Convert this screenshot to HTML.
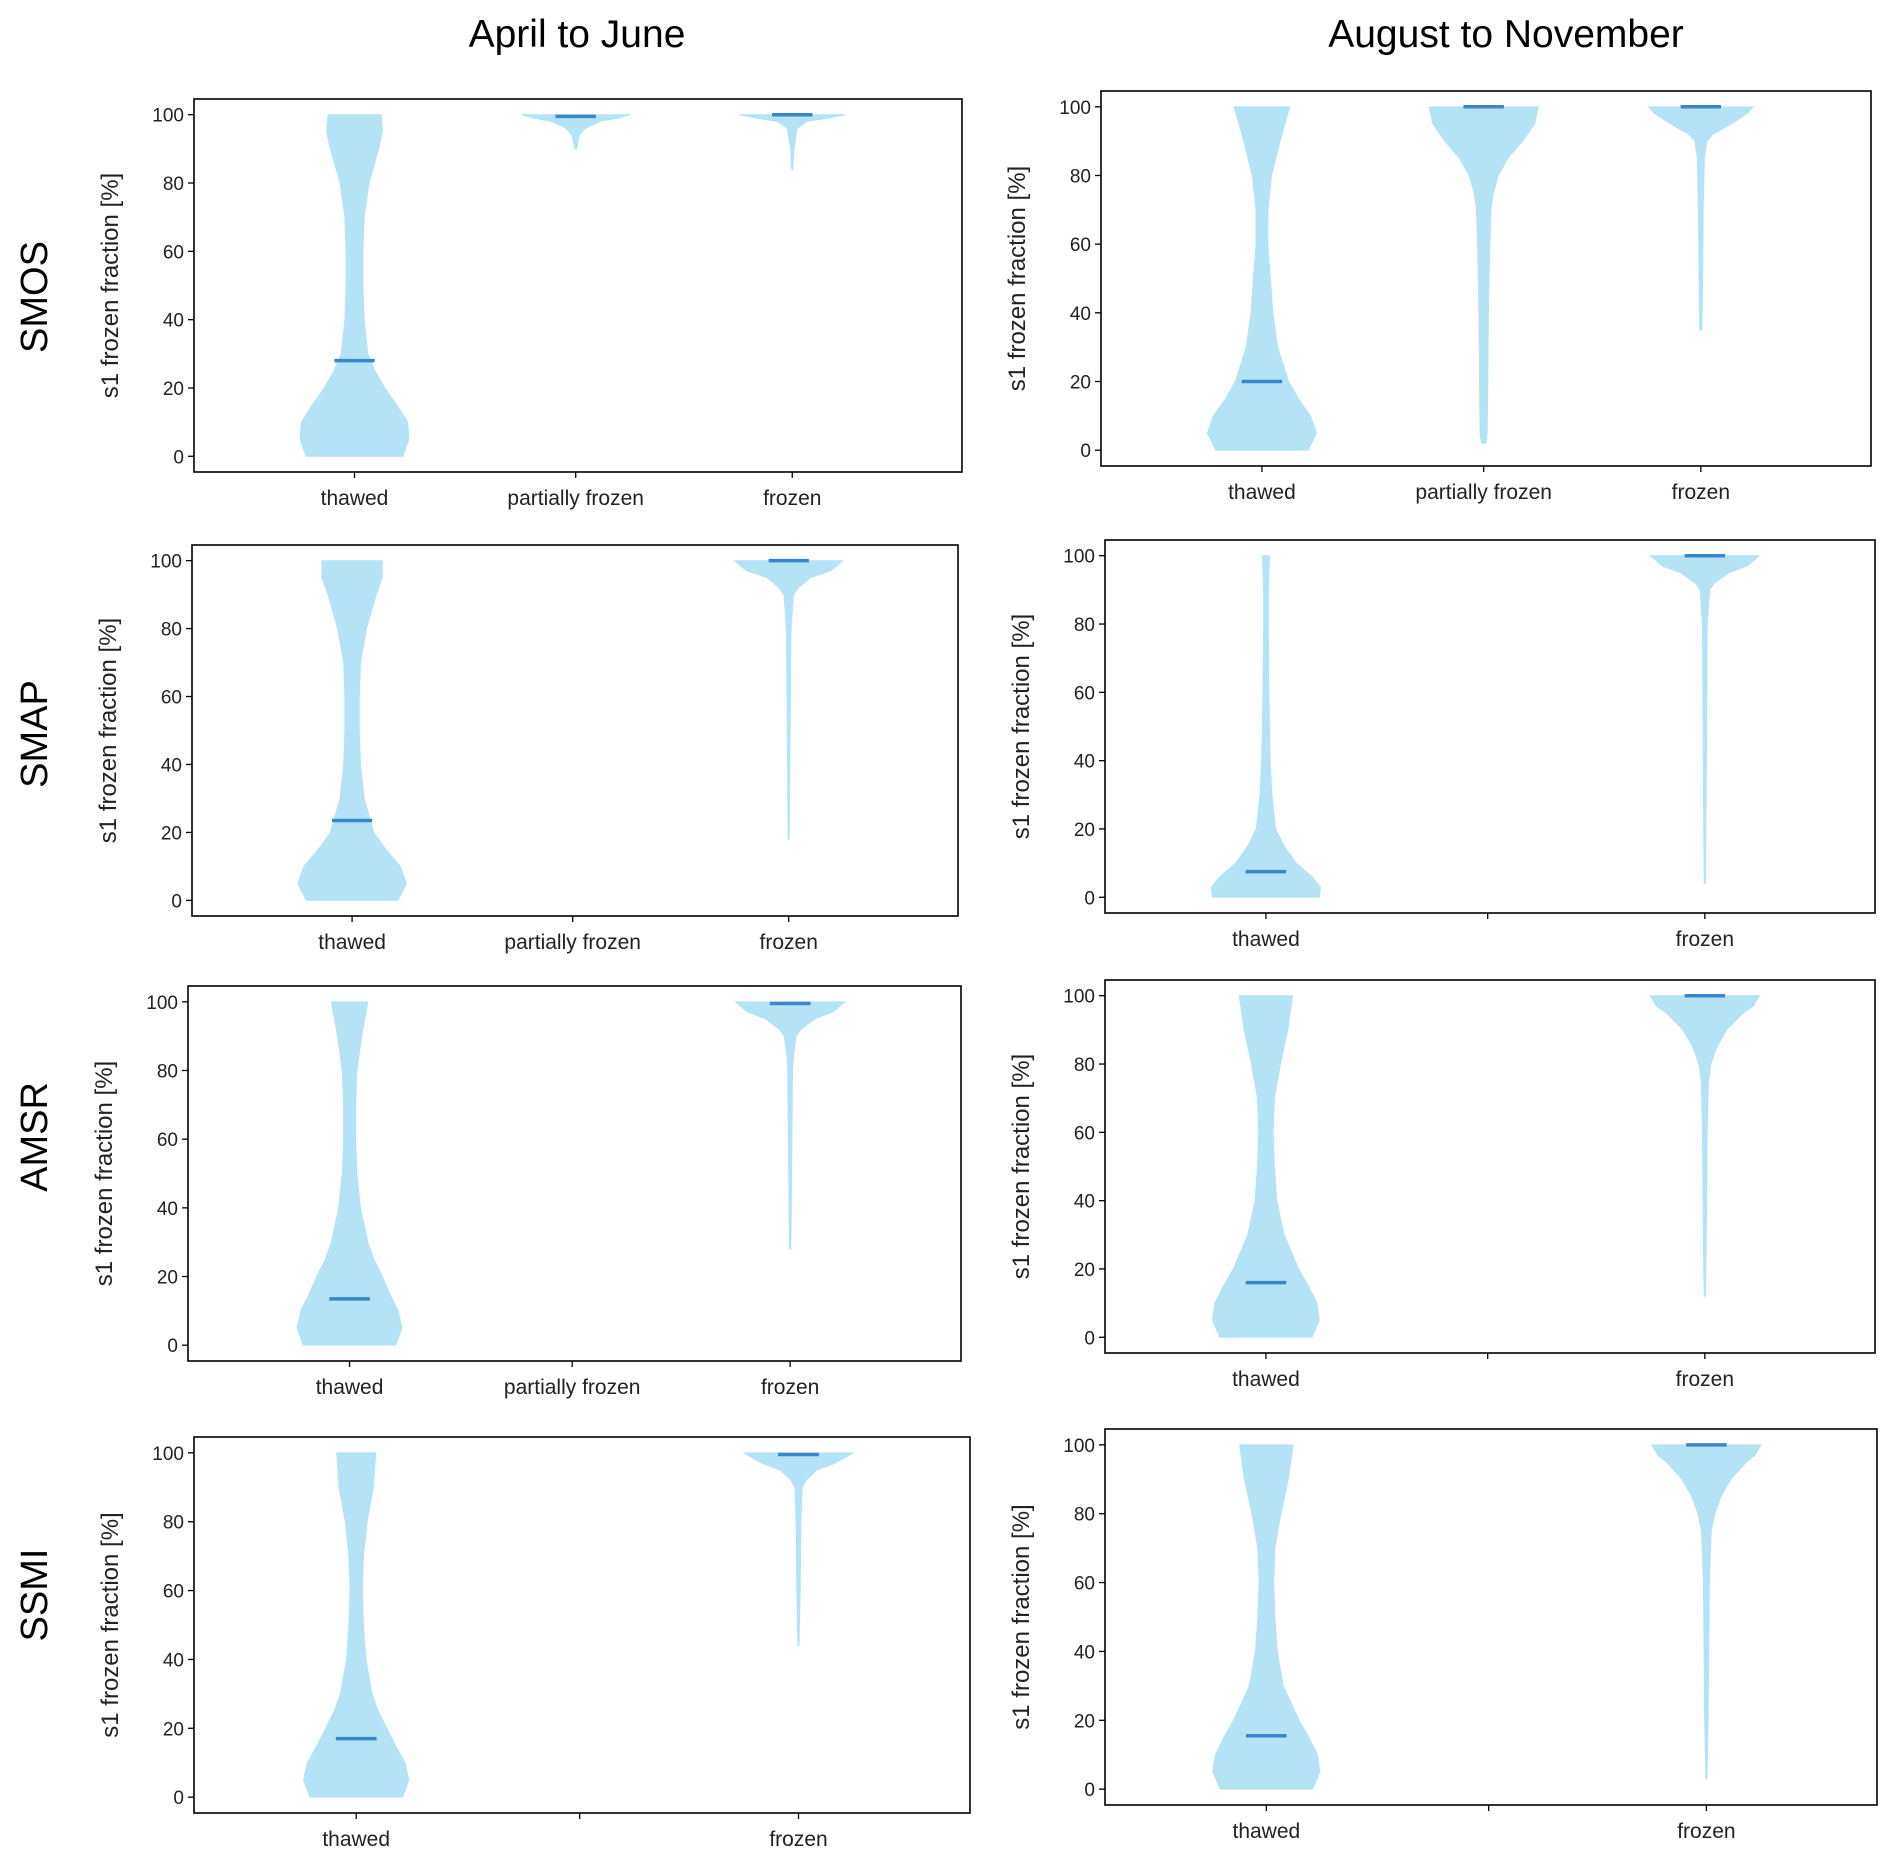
<!DOCTYPE html>
<html><head><meta charset="utf-8"><style>
html,body{margin:0;padding:0;background:#fff;}
svg{display:block;font-family:"Liberation Sans",sans-serif;}
</style></head><body>
<svg id="fig" width="1892" height="1861" viewBox="0 0 1892 1861" xmlns="http://www.w3.org/2000/svg">
<text x="577" y="47" font-size="39" text-anchor="middle" fill="#000">April to June</text>
<text x="1506" y="47" font-size="39" text-anchor="middle" fill="#000">August to November</text>
<text transform="translate(47,297) rotate(-90)" font-size="38" text-anchor="middle">SMOS</text>
<text transform="translate(47,734) rotate(-90)" font-size="38" text-anchor="middle">SMAP</text>
<text transform="translate(47,1137) rotate(-90)" font-size="38" text-anchor="middle">AMSR</text>
<text transform="translate(47,1595) rotate(-90)" font-size="38" text-anchor="middle">SSMI</text>
</svg>
<script>
// ---- data ----
const categories = ["thawed", "partially frozen", "frozen"];
const yTicks = [0, 20, 40, 60, 80, 100];
const panelNames = ["smos-apr-jun","smos-aug-nov","smap-apr-jun","smap-aug-nov","amsr-apr-jun","amsr-aug-nov","ssmi-apr-jun","ssmi-aug-nov"];
const panelCategoryLabels = [
  ["thawed","partially frozen","frozen"],["thawed","partially frozen","frozen"],
  ["thawed","partially frozen","frozen"],["thawed","","frozen"],
  ["thawed","partially frozen","frozen"],["thawed","","frozen"],
  ["thawed","","frozen"],["thawed","","frozen"]
];
const violinPanel = [0,0,0, 1,1,1, 2,2, 3,3, 4,4, 5,5, 6,6, 7,7];
const violinCategory = [0,1,2, 0,1,2, 0,2, 0,2, 0,2, 0,2, 0,2, 0,2];
const violinMedians = [28,99.5,100, 20,100,100, 23.5,100, 7.5,100, 13.5,99.5, 16,100, 17,99.5, 15.5,100];
const violinLevels = [
  [0,5,10,15,20,25,30,40,50,60,70,80,90,95,100],
  [90,94,96,98,99,100],
  [84,90,96,98,99,100],
  [0,5,10,15,20,30,40,50,60,70,80,90,100],
  [2,5,20,40,60,70,75,80,85,90,95,100],
  [35,50,70,85,90,92,95,98,100],
  [0,5,10,15,20,30,40,50,60,70,80,90,95,100],
  [18,40,60,80,90,92,95,97,100],
  [0,3,6,10,15,20,30,40,60,80,90,100],
  [4,20,50,80,90,92,95,97,100],
  [0,5,10,15,20,25,30,40,50,60,70,80,90,100],
  [28,40,60,80,85,90,92,95,97,100],
  [0,5,10,15,20,30,40,50,60,70,80,90,100],
  [12,20,40,60,75,80,85,90,95,97,100],
  [0,5,10,15,20,25,30,40,50,60,70,80,90,100],
  [44,60,80,90,92,95,97,100],
  [0,5,10,15,20,30,40,50,60,70,80,90,100],
  [3,20,40,60,75,80,85,90,95,97,100]
];
const violinWidths = [
  [40,45,44,35,25,17,11,8,7,7,8,12,20,23,22],
  [1,3,8,20,35,45],
  [0.5,1.5,4,12,30,44],
  [38,45,40,30,22,13,9,7,5,5,8,15,23],
  [2,3,3.5,4,5,6,8,12,20,32,42,45],
  [1,1.5,2,3,5,10,25,38,43],
  [38,45,40,28,18,10,7,6,6,7,12,20,25,25],
  [0.5,1,1.5,2,4,8,18,35,45],
  [44,45,38,25,15,8,5,3.5,2.5,2,2,3],
  [0.5,1,1.5,2,4,8,20,35,45],
  [38,43,40,33,27,20,15,9,6,5,5,6,10,15],
  [0.5,1,1.5,2,3,5,9,20,35,45],
  [38,44,42,35,27,15,9,7,6,7,12,18,22],
  [0.5,1,1.5,2,3,5,10,18,32,40,45],
  [38,43,40,32,25,18,13,8,6,5,6,9,14,16],
  [0.5,1.5,2,3,6,15,30,45],
  [38,44,42,35,27,14,9,7,6,7,12,18,22],
  [0.5,1.5,2,2.5,4,7,12,20,33,40,45]
];
// ---- layout ----
const boxes = [
  [194,99,962,472],[1101,91,1871,466],
  [192,545,958,916],[1105,540,1875,913],
  [188,986,961,1361],[1105,980,1875,1353],
  [194,1437,970,1813],[1105,1429,1877,1805]
];
const catFrac = [0.209,0.497,0.779];
const yMin = -4.6, yMax = 104.6, maxW = 45;
const NS = "http://www.w3.org/2000/svg";
const svg = document.getElementById('fig');
function mk(tag, attrs, parent){const e=document.createElementNS(NS,tag);for(const k in attrs)e.setAttribute(k,attrs[k]);(parent||svg).appendChild(e);return e;}
function yScale(b,v){return b[3]-(v-yMin)/(yMax-yMin)*(b[3]-b[1]);}
function xScale(b,c){return b[0]+catFrac[c]*(b[2]-b[0]);}

boxes.forEach((b,p)=>{
  const g = mk('g',{});
  
  
  yTicks.forEach(t=>{
    const y=yScale(b,t);
    const l=mk('line',{x1:b[0]-6,x2:b[0],y1:y,y2:y,stroke:'#000','stroke-width':1.3},g);
    
    
    const tx=mk('text',{x:b[0]-10,y:y+7,'font-size':19,'text-anchor':'end',fill:'#222'},g);
    tx.textContent=t;
    
    
  });
  categories.forEach((c,i)=>{
    const x=xScale(b,i);
    const l=mk('line',{x1:x,x2:x,y1:b[3],y2:b[3]+6,stroke:'#000','stroke-width':1.3},g);
    
    
    const lab=panelCategoryLabels[p][i];
    if(lab){
      const tx=mk('text',{x:x,y:b[3]+33,'font-size':21,'text-anchor':'middle',fill:'#222'},g);
      tx.textContent=lab;
      
      
    }
  });
  const cy=(b[1]+b[3])/2, lx=b[0]-76;
  const yl=mk('text',{transform:`translate(${lx},${cy}) rotate(-90)`,'font-size':24,'text-anchor':'middle',fill:'#222'},g);
  yl.textContent='s1 frozen fraction [%]';
  
  
  g.setAttribute('id','panel'+p);
});

violinPanel.forEach((p,i)=>{
  const b=boxes[p], cx=xScale(b,violinCategory[i]);
  const scale=0.071*(b[2]-b[0])/maxW;
  const lv=violinLevels[i], wd=violinWidths[i];
  let right=[],left=[];
  lv.forEach((v,k)=>{const y=yScale(b,v);right.push((cx+wd[k]*scale).toFixed(1)+','+y.toFixed(1));left.unshift((cx-wd[k]*scale).toFixed(1)+','+y.toFixed(1));});
  const g=document.getElementById('panel'+p);
  const path=mk('polygon',{points:right.concat(left).join(' '),fill:'#b3e3f4','stroke':'#b3e3f4','stroke-width':0.8,'stroke-linejoin':'round'},g);
  
  
  const my=yScale(b,violinMedians[i]), hw=0.035*(b[2]-b[0]);
  const m=mk('line',{x1:cx-hw*0.75,x2:cx+hw*0.75,y1:my,y2:my,stroke:'#3a86c8','stroke-width':3.5},g);
  
  
});

boxes.forEach((b,p)=>{
  const r=mk('rect',{x:b[0],y:b[1],width:b[2]-b[0],height:b[3]-b[1],fill:'none',stroke:'#000','stroke-width':1.6},document.getElementById('panel'+p));
  
  
});
</script>
</body></html>
